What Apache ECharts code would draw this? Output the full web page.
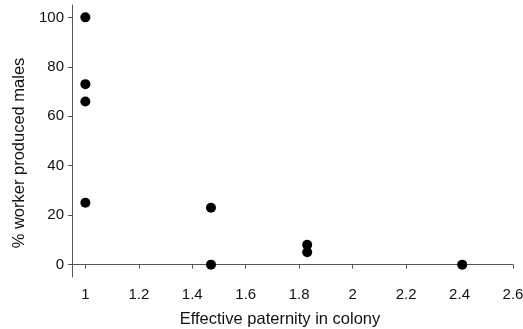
<!DOCTYPE html>
<html><head><meta charset="utf-8">
<script src="https://cdn.jsdelivr.net/npm/echarts@6/dist/echarts.min.js"></script>
<style>html,body{margin:0;padding:0;background:#fff}#c{width:523px;height:329px}</style>
</head><body><div id="c"></div>
<script>
const paternity = [1, 1, 1, 1, 1.47, 1.47, 1.83, 1.83, 2.41];
const workerMales = [100, 73, 66, 25, 23, 0, 8, 5, 0];
const xTicks = [1, 1.2, 1.4, 1.6, 1.8, 2, 2.2, 2.4, 2.6];
const yTicks = [0, 20, 40, 60, 80, 100];
const data = paternity.map((x, i) => [x, workerMales[i]]);
const font = 'Liberation Sans, Arial, sans-serif';
const chart = echarts.init(document.getElementById('c'));
chart.setOption({
  animation: false,
  grid: {left: 72, right: 10, top: 5, bottom: 52, containLabel: false, outerBoundsMode: 'none'},
  xAxis: {
    type: 'value', min: 0.95, max: 2.6,
    name: 'Effective paternity in colony', nameLocation: 'middle', nameGap: 34,
    nameTextStyle: {color: '#111', fontSize: 16.5, fontFamily: font, padding: [0, 25, 0, 0]},
    axisLine: {show: true, lineStyle: {color: '#555', width: 1}},
    axisTick: {show: true, length: 4, lineStyle: {color: '#555'}, customValues: xTicks},
    axisLabel: {color: '#111', fontSize: 15, fontFamily: font, margin: 10, customValues: xTicks,
      formatter: v => String(Math.round(v * 10) / 10)},
    splitLine: {show: false}
  },
  yAxis: {
    type: 'value', min: -5, max: 105,
    name: '% worker produced males', nameLocation: 'middle', nameGap: 44,
    nameTextStyle: {color: '#111', fontSize: 16.5, fontFamily: font, padding: [0, 24, 0, 0]},
    axisLine: {show: true, lineStyle: {color: '#555', width: 1}},
    axisTick: {show: true, length: 4, lineStyle: {color: '#555'}, customValues: yTicks},
    axisLabel: {color: '#111', fontSize: 15, fontFamily: font, margin: 8, customValues: yTicks},
    splitLine: {show: false}
  },
  series: [{
    type: 'scatter', data: data, symbolSize: 10,
    itemStyle: {color: '#000', opacity: 1}
  }]
});
</script></body></html>
